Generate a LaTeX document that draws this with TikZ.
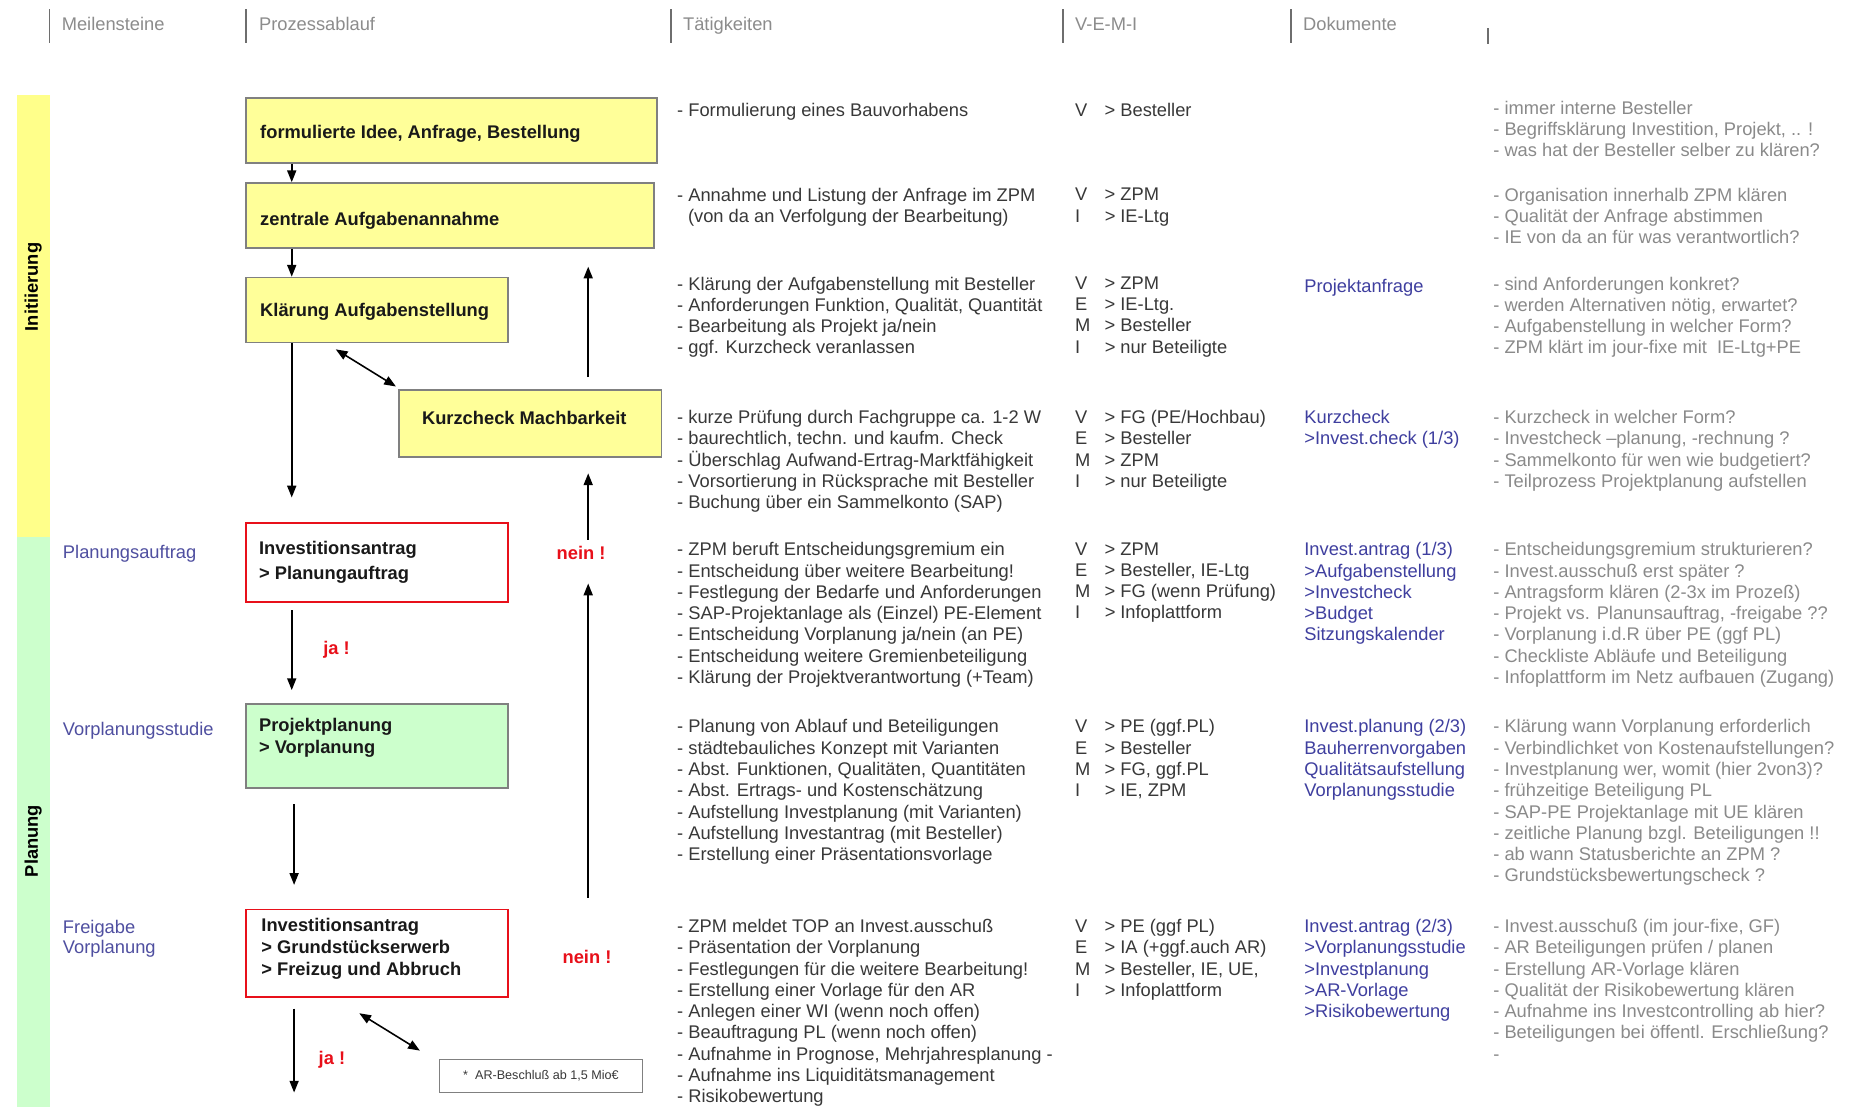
\documentclass[tikz,border=0pt]{standalone}
\usepackage{fontspec}
\setmainfont{Liberation Sans}
\usetikzlibrary{arrows.meta,calc,fit}
\definecolor{hdr}{HTML}{8C8C8C}
\definecolor{hbarc}{HTML}{6E6E6E}
\definecolor{txt}{HTML}{383838}
\definecolor{doc}{HTML}{3F3F9F}
\definecolor{notec}{HTML}{8A8A8A}
\definecolor{mile}{HTML}{4F4FA0}
\definecolor{yel}{HTML}{FFFF99}
\definecolor{yelbar}{HTML}{FFFF8A}
\definecolor{grn}{HTML}{CCFFCC}
\definecolor{redc}{HTML}{E8101A}
\definecolor{bord}{HTML}{808080}
\newcommand{\vm}[2]{\makebox[15pt][l]{#1}>\hspace{2.5pt}#2}
\newcommand{\firstl}{\rule{0pt}{8pt}}
\begin{document}
\begin{tikzpicture}[x=0.6pt,y=-0.6pt,
  font=\fontsize{9.3}{10.8}\selectfont,
  hbar/.style={draw=hbarc,line width=0.9pt},
  htext/.style={anchor=base west,inner sep=0,text=hdr},
  boxy/.style={draw=bord,fill=yel,line width=0.9pt,inner sep=0},
  boxr/.style={draw=redc,fill=white,line width=1pt,inner sep=0},
  boxg/.style={draw=bord,fill=grn,line width=0.9pt,inner sep=0},
  tl/.style={anchor=north west,yshift=6pt,inner sep=0,align=left,execute at begin node=\firstl},
  bt/.style={tl,font=\fontsize{9.3}{11.2}\selectfont\bfseries,text=black!90},
  tat/.style={tl,text=txt},
  vemi/.style={tl,text=txt},
  docs/.style={tl,text=doc},
  notes/.style={tl,text=notec},
  ms/.style={tl,text=mile,font=\fontsize{9.3}{9.8}\selectfont},
  redlab/.style={inner sep=1pt,text=redc,font=\fontsize{9.3}{10.8}\selectfont\bfseries},
  arr/.style={line width=0.8pt,-{Triangle[length=6pt,width=4.6pt]}},
  dbl/.style={line width=0.8pt,{Triangle[length=6pt,width=4.6pt]}-{Triangle[length=6pt,width=4.6pt]}},
  phase/.style={rotate=90,inner sep=0,font=\fontsize{9.3}{10.8}\selectfont\bfseries}
]
\useasboundingbox (0,0) rectangle (1568,937);
\fill[white] (0,0) rectangle (1568,937);

% header
\foreach \x in {42,208,568,900,1093} {\draw[hbar] (\x,8) -- (\x,36);}
\draw[hbar] (1260,24) -- (1260,37);
\node[htext] (h1) at (52,26) {Meilensteine};
\node[htext] (h2) at (219,26) {Prozessablauf};
\node[htext] (h3) at (578,26) {Tätigkeiten};
\node[htext] (h4) at (910,26) {V-E-M-I};
\node[htext] (h5) at (1103,26) {Dokumente};

% phase bars
\fill[yelbar] (14,80) rectangle (42,455);
\fill[grn] (14,455) rectangle (42,937);
\node[phase] (ph1) at (28,243) {Initiierung};
\node[phase] (ph2) at (28,712) {Planung};

% boxes
\node[boxy,fit={(208,83)(556,138)}] (b1) {};
\node[boxy,fit={(208,155)(554,210)}] (b2) {};
\node[boxy,fit={(208,235)(430,290)}] (b3) {};
\node[boxy,fit={(338,330)(560,387)}] (b4) {};
\node[boxr,fit={(208,443)(430,510)}] (b5) {};
\node[boxg,fit={(208,596)(430,667)}] (b6) {};
\node[boxr,fit={(208,770)(430,844)}] (b7) {};
\node[draw=bord,fill=white,line width=0.6pt,inner sep=0,fit={(372,897)(544,925)}] (nb) {};

\node[bt] (bt1) at (220,114) {formulierte Idee, Anfrage, Bestellung};
\node[bt] (bt2) at (220,187) {zentrale Aufgabenannahme};
\node[bt] (bt3) at (220,264) {Klärung Aufgabenstellung};
\node[bt] (bt4) at (357,356) {Kurzcheck Machbarkeit};
\node[bt,font=\fontsize{9.3}{12.4}\selectfont\bfseries] (bt5) at (219,468) {Investitionsantrag\\> Planungauftrag};
\node[bt] (bt6) at (219,618) {Projektplanung\\> Vorplanung};
\node[bt] (bt7) at (221,787) {Investitionsantrag\\> Grundstückserwerb\\> Freizug und Abbruch};
\node[inner sep=0,text=txt,font=\fontsize{6.4}{7}\selectfont] (nbt) at (nb.center) {*\ \ AR-Beschluß ab 1,5 Mio€};

% milestones
\node[ms] (m1) at (53,469) {Planungsauftrag};
\node[ms] (m2) at (53,619) {Vorplanungsstudie};
\node[ms] (m3) at (53,789) {Freigabe\\Vorplanung};

% red labels
\node[redlab] (ja1) at (285,550) {ja !};
\node[redlab] (ja2) at (281,897) {ja !};
\node[redlab] (nein1) at (492,468) {nein !};
\node[redlab] (nein2) at (497,810) {nein !};

% connectors
\coordinate (ax) at (247,0);
\coordinate (ax2) at (249,0);
\coordinate (ux) at (498,0);
\coordinate (u1s) at (498,760);
\coordinate (e7) at (249,925);
\draw[arr] (b1.south -| ax) -- (b2.north -| ax);
\draw[arr] (b2.south -| ax) -- (b3.north -| ax);
\draw[arr,shorten >=12.6pt] (b3.south -| ax) -- (b5.north -| ax);
\draw[arr,shorten <=3.6pt,shorten >=6.6pt] (b5.south -| ax) -- (b6.north -| ax);
\draw[arr,shorten <=7.8pt,shorten >=12pt] (b6.south -| ax2) -- (b7.north -| ax2);
\draw[arr,shorten <=5.4pt] (b7.south -| ax2) -- (e7);
\draw[dbl] ([xshift=46.2pt,yshift=-3pt]b3.south west) -- ([xshift=-1.2pt,yshift=1.2pt]b4.north west);
\draw[dbl] ([xshift=58.2pt,yshift=-7.8pt]b7.south west) -- ([xshift=-9.6pt,yshift=4.2pt]nb.north west);
\draw[arr,shorten >=11pt] (u1s) -- (nein1.south -| ux);
\draw[arr,shorten <=2pt,shorten >=7.8pt] (nein1.north -| ux) -- (b4.south -| ux);
\draw[arr,shorten <=6pt,shorten >=9pt] (b4.north -| ux) -- (b2.south -| ux);

% Taetigkeiten
\node[tat] (t1) at (573,95) {- Formulierung eines Bauvorhabens};
\node[tat] (t2) at (573,169) {- Annahme und Listung der Anfrage im ZPM\\\hspace*{5.5pt}(von da an Verfolgung der Bearbeitung)};
\node[tat] (t3) at (573,244) {- Klärung der Aufgabenstellung mit Besteller\\- Anforderungen Funktion, Qualität, Quantität\\- Bearbeitung als Projekt ja/nein\\- ggf. Kurzcheck veranlassen};
\node[tat] (t4) at (573,357) {- kurze Prüfung durch Fachgruppe ca. 1-2 W\\- baurechtlich, techn. und kaufm. Check\\- Überschlag Aufwand-Ertrag-Marktfähigkeit\\- Vorsortierung in Rücksprache mit Besteller\\- Buchung über ein Sammelkonto (SAP)};
\node[tat] (t5) at (573,469) {- ZPM beruft Entscheidungsgremium ein\\- Entscheidung über weitere Bearbeitung!\\- Festlegung der Bedarfe und Anforderungen\\- SAP-Projektanlage als (Einzel) PE-Element\\- Entscheidung Vorplanung ja/nein (an PE)\\- Entscheidung weitere Gremienbeteiligung\\- Klärung der Projektverantwortung (+Team)};
\node[tat] (t6) at (573,619) {- Planung von Ablauf und Beteiligungen\\- städtebauliches Konzept mit Varianten\\- Abst. Funktionen, Qualitäten, Quantitäten\\- Abst. Ertrags- und Kostenschätzung\\- Aufstellung Investplanung (mit Varianten)\\- Aufstellung Investantrag (mit Besteller)\\- Erstellung einer Präsentationsvorlage};
\node[tat] (t7) at (573,788) {- ZPM meldet TOP an Invest.ausschuß\\- Präsentation der Vorplanung\\- Festlegungen für die weitere Bearbeitung!\\- Erstellung einer Vorlage für den AR\\- Anlegen einer WI (wenn noch offen)\\- Beauftragung PL (wenn noch offen)\\- Aufnahme in Prognose, Mehrjahresplanung -\\- Aufnahme ins Liquiditätsmanagement\\- Risikobewertung};

% V-E-M-I
\node[vemi] (v1) at (910,95) {\vm{V}{Besteller}};
\node[vemi] (v2) at (910,169) {\vm{V}{ZPM}\\\vm{I}{IE-Ltg}};
\node[vemi] (v3) at (910,244) {\vm{V}{ZPM}\\\vm{E}{IE-Ltg.}\\\vm{M}{Besteller}\\\vm{I}{nur Beteiligte}};
\node[vemi] (v4) at (910,357) {\vm{V}{FG (PE/Hochbau)}\\\vm{E}{Besteller}\\\vm{M}{ZPM}\\\vm{I}{nur Beteiligte}};
\node[vemi] (v5) at (910,469) {\vm{V}{ZPM}\\\vm{E}{Besteller, IE-Ltg}\\\vm{M}{FG (wenn Prüfung)}\\\vm{I}{Infoplattform}};
\node[vemi] (v6) at (910,619) {\vm{V}{PE (ggf.PL)}\\\vm{E}{Besteller}\\\vm{M}{FG, ggf.PL}\\\vm{I}{IE, ZPM}};
\node[vemi] (v7) at (910,788) {\vm{V}{PE (ggf PL)}\\\vm{E}{IA (+ggf.auch AR)}\\\vm{M}{Besteller, IE, UE,}\\\vm{I}{Infoplattform}};

% Dokumente
\node[docs] (d3) at (1104,244) {Projektanfrage};
\node[docs] (d4) at (1104,357) {Kurzcheck\\>Invest.check (1/3)};
\node[docs] (d5) at (1104,469) {Invest.antrag (1/3)\\>Aufgabenstellung\\>Investcheck\\>Budget\\Sitzungskalender};
\node[docs] (d6) at (1104,619) {Invest.planung (2/3)\\Bauherrenvorgaben\\Qualitätsaufstellung\\Vorplanungsstudie};
\node[docs] (d7) at (1104,788) {Invest.antrag (2/3)\\>Vorplanungsstudie\\>Investplanung\\>AR-Vorlage\\>Risikobewertung};

% notes
\node[notes] (n1) at (1264,95) {- immer interne Besteller\\- Begriffsklärung Investition, Projekt, .. !\\- was hat der Besteller selber zu klären?};
\node[notes] (n2) at (1264,169) {- Organisation innerhalb ZPM klären\\- Qualität der Anfrage abstimmen\\- IE von da an für was verantwortlich?};
\node[notes] (n3) at (1264,244) {- sind Anforderungen konkret?\\- werden Alternativen nötig, erwartet?\\- Aufgabenstellung in welcher Form?\\- ZPM klärt im jour-fixe mit\ \ IE-Ltg+PE};
\node[notes] (n4) at (1264,357) {- Kurzcheck in welcher Form?\\- Investcheck –planung, -rechnung ?\\- Sammelkonto für wen wie budgetiert?\\- Teilprozess Projektplanung aufstellen};
\node[notes] (n5) at (1264,469) {- Entscheidungsgremium strukturieren?\\- Invest.ausschuß erst später ?\\- Antragsform klären (2-3x im Prozeß)\\- Projekt vs. Planunsauftrag, -freigabe ??\\- Vorplanung i.d.R über PE (ggf PL)\\- Checkliste Abläufe und Beteiligung\\- Infoplattform im Netz aufbauen (Zugang)};
\node[notes] (n6) at (1264,619) {- Klärung wann Vorplanung erforderlich\\- Verbindlichket von Kostenaufstellungen?\\- Investplanung wer, womit (hier 2von3)?\\- frühzeitige Beteiligung PL\\- SAP-PE Projektanlage mit UE klären\\- zeitliche Planung bzgl. Beteiligungen !!\\- ab wann Statusberichte an ZPM ?\\- Grundstücksbewertungscheck ?};
\node[notes] (n7) at (1264,788) {- Invest.ausschuß (im jour-fixe, GF)\\- AR Beteiligungen prüfen / planen\\- Erstellung AR-Vorlage klären\\- Qualität der Risikobewertung klären\\- Aufnahme ins Investcontrolling ab hier?\\- Beteiligungen bei öffentl. Erschließung?\\-};
\end{tikzpicture}
\end{document}
